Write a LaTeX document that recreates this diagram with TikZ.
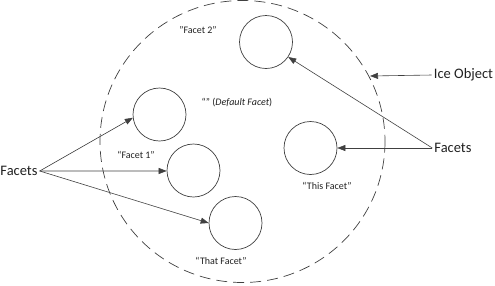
\documentclass[tikz,border=0pt]{standalone}
\usepackage{fontspec}
\setmainfont{Carlito}
\usetikzlibrary{arrows.meta}
\definecolor{ln}{HTML}{404040}
\definecolor{tx}{HTML}{202020}
\tikzset{
  facet/.style={circle,draw=ln,line width=0.7pt,minimum size=53pt,inner sep=0pt},
  lbl/.style={font=\fontsize{10}{12}\selectfont,text=tx,inner sep=0pt},
  big/.style={font=\fontsize{14.5}{17}\selectfont,text=tx,inner sep=2pt},
  arr/.style={draw=ln,line width=0.6pt,-{Triangle[length=8pt,width=6pt]}}
}
\begin{document}
\begin{tikzpicture}[x=1pt,y=-1pt]
\useasboundingbox (0,0) rectangle (495,285);
% ice object
\draw[ln,line width=0.7pt,dash pattern=on 11pt off 6pt] (242.5,141.5) ellipse [x radius=142.5,y radius=141];
% facets
\node[facet] (f2) at (266,42) {};
\node[facet] (fd) at (159.5,114.5) {};
\node[facet] (f1) at (193.5,170.5) {};
\node[facet] (fthat) at (235.5,223) {};
\node[facet] (fthis) at (310.5,148) {};
% labels
\node[lbl] (l2) at (198,30) {"Facet 2”};
\node[lbl] (ld) at (237,103) {“” (\textit{Default Facet})};
\node[lbl] (l1) at (136,155) {“Facet 1”};
\node[lbl] (lthis) at (327,186) {“This Facet”};
\node[lbl] (lthat) at (221,261) {“That Facet”};
% outer labels
\node[big] (fl) at (19,171) {Facets};
\node[big] (fr) at (453,148) {Facets};
\node[big] (ice) at (463.5,75) {Ice Object};
\coordinate (icept) at (370,76);
% arrows
\draw[arr] (fl.east) -- (fd.187);
\draw[arr] (fl.east) -- (f1.181);
\draw[arr] (fl.east) -- (fthat.180);
\draw[arr] (fr.west) -- (f2.326);
\draw[arr] (fr.west) -- (fthis.0);
\draw[arr] (ice.west) -- (icept);
\end{tikzpicture}
\end{document}
